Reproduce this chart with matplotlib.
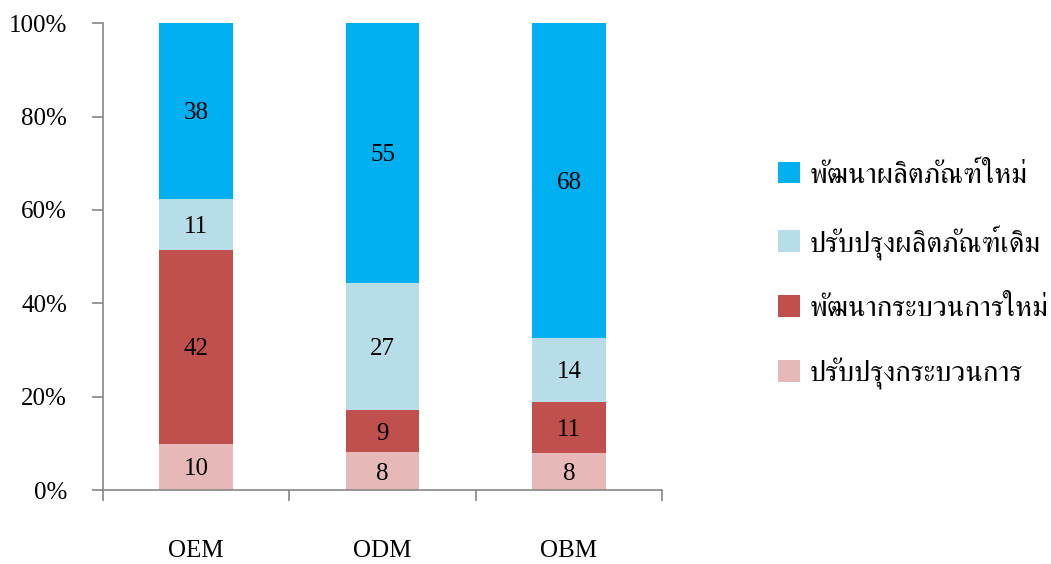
import matplotlib
matplotlib.use('Agg')
import matplotlib.pyplot as plt
import numpy as np

categories = ['OEM', 'ODM', 'OBM']
series = ['ปรับปรุงกระบวนการ', 'พัฒนากระบวนการใหม่', 'ปรับปรุงผลิตภัณฑ์เดิม', 'พัฒนาผลิตภัณฑ์ใหม่']
values = [
    [10, 8, 8],     # ปรับปรุงกระบวนการ
    [42, 9, 11],    # พัฒนากระบวนการใหม่
    [11, 27, 14],   # ปรับปรุงผลิตภัณฑ์เดิม
    [38, 55, 68],   # พัฒนาผลิตภัณฑ์ใหม่
]
colors = ['#E6B9B8', '#C0504D', '#B7DEE8', '#00B0F0']
yticklabels = ['0%', '20%', '40%', '60%', '80%', '100%']

fonts = ['Liberation Serif', 'FreeSerif']
plt.rcParams['font.family'] = fonts

vals = np.array(values, dtype=float)
totals = vals.sum(axis=0)
shares = vals / totals

fig = plt.figure(figsize=(10.51, 5.64), dpi=100)
ax = fig.add_axes([0.098, 0.131, 0.532, 0.828])

x = np.arange(len(categories))
bottom = np.zeros(len(categories))
handles = []
for i in range(len(series)):
    bars = ax.bar(x, shares[i], 0.395, bottom=bottom, color=colors[i], label=series[i])
    handles.append(bars)
    for j in range(len(categories)):
        ax.text(x[j], bottom[j] + shares[i][j] / 2, '%d' % values[i][j],
                ha='center', va='center_baseline', fontsize=18, color='black')
    bottom = bottom + shares[i]

ax.set_xlim(-0.5, 2.5)
ax.set_ylim(0, 1)
ax.set_yticks(np.linspace(0, 1, 6))
ax.set_yticklabels(yticklabels, fontsize=18)
ax.set_xticks(x)
ax.set_xticklabels(categories, fontsize=18)
ax.set_xticks([-0.5, 0.5, 1.5, 2.5], minor=True)
ax.tick_params(axis='x', which='major', length=0, pad=36)
ax.tick_params(axis='x', which='minor', length=8, width=1.2, color='#868686', direction='out')
ax.tick_params(axis='y', length=8, width=1.2, color='#868686', pad=18)

for s in ['top', 'right']:
    ax.spines[s].set_visible(False)
for s in ['left', 'bottom']:
    ax.spines[s].set_color('#868686')
    ax.spines[s].set_linewidth(1.2)

leg = fig.legend(handles[::-1], series[::-1], loc='center left',
                 bbox_to_anchor=(0.740, 0.511), frameon=False, fontsize=21,
                 handlelength=0.78, handleheight=0.78, handletextpad=0.3,
                 labelspacing=1.22, borderpad=0, borderaxespad=0)

fig.savefig('out.png')
